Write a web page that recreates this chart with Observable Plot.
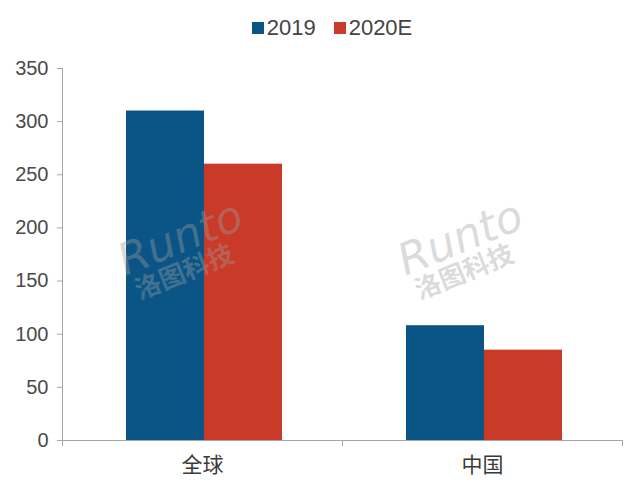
<!DOCTYPE html>
<html>
<head>
<meta charset="utf-8">
<script src="https://cdn.jsdelivr.net/npm/d3@7"></script>
<script src="https://cdn.jsdelivr.net/npm/@observablehq/plot@0.6"></script>
<style>
  body { margin: 0; background: #fff; font-family: "Liberation Sans", Arial, sans-serif; }
  #legend { height: 56px; display: flex; justify-content: center; align-items: center; padding-left: 24px; box-sizing: border-box; font-size: 22px; color: #444; }
  .item { display: flex; align-items: center; margin: 0 9px; }
  .sw { width: 12px; height: 12px; margin-right: 3px; }
</style>
</head>
<body>
<div id="legend"></div>
<div id="chart"></div>
<script>
const categories = ["全球", "中国"];
const series = ["2019", "2020E"];
const values2019 = [310, 108];
const values2020E = [260, 85];
const yTicks = [0, 50, 100, 150, 200, 250, 300, 350];
const colors = ["#0b5486", "#c93a29"];
const watermarkMain = "Runto";
const watermarkSub = "洛图科技";

const rows = categories.flatMap((c, i) => [
  {category: c, series: series[0], value: values2019[i]},
  {category: c, series: series[1], value: values2020E[i]}
]);

// legend
const legend = d3.select("#legend");
series.forEach((s, i) => {
  const it = legend.append("div").attr("class", "item");
  it.append("div").attr("class", "sw").style("background", colors[i]);
  it.append("span").text(s);
});

const plot = Plot.plot({
  width: 640,
  height: 440,
  marginLeft: 62,
  marginRight: 18,
  marginTop: 12,
  marginBottom: 56,
  style: {fontFamily: "'Liberation Sans', Arial, sans-serif", background: "#fff"},
  fx: {domain: categories, padding: 0, axis: null, label: null},
  x: {domain: series, paddingInner: 0, paddingOuter: 0.78, align: 0.52, axis: null, label: null},
  y: {domain: [0, 350], axis: null, label: null},
  color: {domain: series, range: colors},
  marks: [
    Plot.barY(rows, {fx: "category", x: "series", y: "value", fill: "series"}),
    Plot.ruleY([0], {stroke: "#a6a6a6", strokeWidth: 1}),
    Plot.axisY({ticks: yTicks, tickSize: 5, tickPadding: 9, fontSize: 20, fill: "#4a4a4a", stroke: "#a6a6a6", label: null}),
    Plot.axisFx({anchor: "bottom", tickSize: 0, tickPadding: 17, fontSize: 21, fill: "#3a3a3a", label: null,
      fontFamily: "'Noto Sans CJK SC', sans-serif"}),
    Plot.text(categories, {fx: d => d, text: () => watermarkMain, frameAnchor: "middle", dx: -22, dy: -16,
      rotate: -22, fontSize: 44, fontStyle: "italic", fill: "#a0a0a0", fillOpacity: 0.38,
      fontFamily: "'DejaVu Sans', sans-serif"}),
    Plot.text(categories, {fx: d => d, text: () => watermarkSub, frameAnchor: "middle", dx: -18, dy: 18,
      rotate: -22, fontSize: 26, fontWeight: "bold", fill: "#a0a0a0", fillOpacity: 0.38,
      fontFamily: "'Noto Sans CJK SC', sans-serif"})
  ]
});

document.getElementById("chart").appendChild(plot);

// axis lines & category boundary ticks via the plot's own scales
const svg = d3.select(plot);
const y = plot.scale("y");
const fx = plot.scale("fx");
const y0 = y.apply(0);
const left = fx.apply(categories[0]);
const g = svg.append("g").attr("stroke", "#a6a6a6").attr("stroke-width", 1);
g.append("line").attr("x1", left + 0.5).attr("x2", left + 0.5).attr("y1", y.apply(350)).attr("y2", y0);
const bounds = [];
categories.forEach(c => { bounds.push(fx.apply(c)); bounds.push(fx.apply(c) + fx.bandwidth); });
[...new Set(bounds.map(b => Math.round(b)))].forEach(b => {
  g.append("line").attr("x1", b + 0.5).attr("x2", b + 0.5).attr("y1", y0).attr("y2", y0 + 6);
});
</script>
</body>
</html>
